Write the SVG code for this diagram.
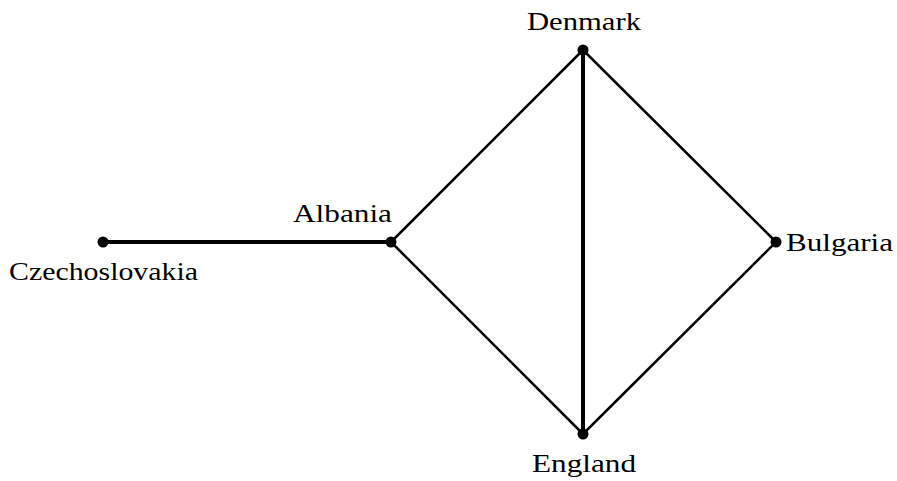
<svg xmlns="http://www.w3.org/2000/svg" width="897" height="481" viewBox="0 0 897 481">
<style>
.lbl{font-family:"Liberation Serif","DejaVu Serif",serif;font-size:25px;fill:#000}
.thin{stroke:#000;stroke-width:2.5;fill:none;stroke-linecap:round}
.thick{stroke:#000;stroke-width:4;fill:none;stroke-linecap:round}
.dot{fill:#000}
</style>
<rect width="897" height="481" fill="#fff"/>
<g id="connectors">
<line class="thick" x1="103" y1="242" x2="391" y2="242"/>
<line class="thin" x1="391" y1="242" x2="583" y2="50"/>
<line class="thin" x1="391" y1="242" x2="583" y2="434"/>
<line class="thick" x1="583" y1="50" x2="583" y2="434"/>
<line class="thin" x1="583" y1="50" x2="776" y2="242"/>
<line class="thin" x1="583" y1="434" x2="776" y2="242"/>
</g>
<g id="Czechoslovakia"><circle class="dot" cx="103" cy="242" r="5.5"/><text class="lbl" x="9" y="280" textLength="189" lengthAdjust="spacingAndGlyphs">Czechoslovakia</text></g>
<g id="Albania"><circle class="dot" cx="391" cy="242" r="5.5"/><text class="lbl" x="293" y="222" textLength="99" lengthAdjust="spacingAndGlyphs">Albania</text></g>
<g id="Denmark"><circle class="dot" cx="583" cy="50" r="5.5"/><text class="lbl" x="527" y="30" textLength="114" lengthAdjust="spacingAndGlyphs">Denmark</text></g>
<g id="England"><circle class="dot" cx="583" cy="434" r="5.5"/><text class="lbl" x="532" y="472" textLength="104" lengthAdjust="spacingAndGlyphs">England</text></g>
<g id="Bulgaria"><circle class="dot" cx="776" cy="242" r="5.5"/><text class="lbl" x="786" y="251" textLength="107" lengthAdjust="spacingAndGlyphs">Bulgaria</text></g>
</svg>
